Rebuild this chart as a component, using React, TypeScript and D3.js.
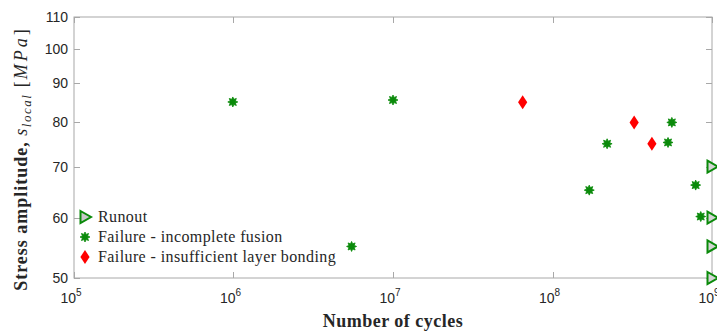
import * as d3 from "d3";
import { useEffect, useRef } from "react";

// cycles to failure / runout, stress amplitude in MPa
const runoutCycles = [1e9, 1e9, 1e9, 1e9];
const runoutStress = [70, 60, 55, 50];

const fusionCycles = [9.9e5, 1.0e7, 5.5e6, 1.7e8, 2.2e8, 5.3e8, 5.6e8, 7.9e8, 8.5e8];
const fusionStress = [85.1, 85.6, 55, 65.2, 75, 75.3, 80, 66.2, 60.2];

const bondingCycles = [6.5e7, 3.25e8, 4.2e8];
const bondingStress = [85, 80, 75];

const xTicks = [1e5, 1e6, 1e7, 1e8, 1e9];
const yTicks = [50, 60, 70, 80, 90, 100, 110];

const legendLabels = [
  "Runout",
  "Failure - incomplete fusion",
  "Failure - insufficient layer bonding",
];

const width = 717;
const height = 333;
const margin = { top: 17, right: 5, bottom: 55, left: 74 };

const GREEN = "#0a8a0a";
const RED = "#ff0000";
const AXIS = "#a8a8a8";
const TEXT = "#262626";
const SERIF = "'Liberation Serif', 'DejaVu Serif', serif";
const SANS = "'Liberation Sans', Arial, sans-serif";

// small filled 8-point star, like the matlab marker after export
function starPath(r: number, r2: number) {
  const pts: [number, number][] = [];
  for (let i = 0; i < 16; i++) {
    const a = (Math.PI * i) / 8 - Math.PI / 2;
    const rr = i % 2 === 0 ? r : r2;
    pts.push([rr * Math.cos(a), rr * Math.sin(a)]);
  }
  return d3.line()(pts) + "Z";
}
const triPath = "M-4.5,-6L6,0L-4.5,6Z";
const diaPath = "M0,-7L4.6,0L0,7L-4.6,0Z";

export default function App() {
  const ref = useRef<SVGSVGElement>(null);

  useEffect(() => {
    const svg = d3.select(ref.current);
    svg.selectAll("*").remove();

    const x = d3
      .scaleLog()
      .domain([1e5, 1e9])
      .range([margin.left, width - margin.right]);
    const y = d3
      .scaleLog()
      .domain([50, 110])
      .range([height - margin.bottom, margin.top]);

    const x0 = x.range()[0];
    const x1 = x.range()[1];
    const y0 = y.range()[0];
    const y1 = y.range()[1];

    const g = svg.append("g");

    // box
    g.append("rect")
      .attr("x", x0)
      .attr("y", y1)
      .attr("width", x1 - x0)
      .attr("height", y0 - y1)
      .attr("fill", "none")
      .attr("stroke", AXIS)
      .attr("stroke-width", 1);

    // x ticks (bottom and top, inward)
    xTicks.forEach((t) => {
      const px = Math.round(x(t)) + 0.5;
      g.append("line").attr("x1", px).attr("x2", px).attr("y1", y0).attr("y2", y0 - 6)
        .attr("stroke", AXIS);
      g.append("line").attr("x1", px).attr("x2", px).attr("y1", y1).attr("y2", y1 + 6)
        .attr("stroke", AXIS);
      const lab = g.append("text")
        .attr("x", x(t) - 3)
        .attr("y", y0 + 25)
        .attr("text-anchor", "middle")
        .attr("font-family", SANS)
        .attr("font-size", 14)
        .attr("fill", TEXT);
      lab.append("tspan").text("10");
      lab.append("tspan")
        .attr("dy", -7)
        .attr("font-size", 10)
        .text(String(Math.round(Math.log10(t))));
    });

    // y ticks (left and right, inward)
    yTicks.forEach((t) => {
      const py = Math.round(y(t)) + 0.5;
      g.append("line").attr("x1", x0).attr("x2", x0 + 6).attr("y1", py).attr("y2", py)
        .attr("stroke", AXIS);
      g.append("line").attr("x1", x1).attr("x2", x1 - 6).attr("y1", py).attr("y2", py)
        .attr("stroke", AXIS);
      g.append("text")
        .attr("x", x0 - 6)
        .attr("y", y(t))
        .attr("dy", "0.36em")
        .attr("text-anchor", "end")
        .attr("font-family", SANS)
        .attr("font-size", 14)
        .attr("fill", TEXT)
        .text(t);
    });

    const star = starPath(5, 2.8);

    // fusion failures
    g.selectAll(".fusion")
      .data(fusionCycles.map((c, i) => [c, fusionStress[i]]))
      .enter()
      .append("path")
      .attr("transform", (d) => `translate(${x(d[0])},${y(d[1])})`)
      .attr("d", star)
      .attr("fill", GREEN)
      .attr("stroke", GREEN)
      .attr("stroke-width", 0.8);

    // layer bonding failures
    g.selectAll(".bonding")
      .data(bondingCycles.map((c, i) => [c, bondingStress[i]]))
      .enter()
      .append("path")
      .attr("transform", (d) => `translate(${x(d[0])},${y(d[1])})`)
      .attr("d", diaPath)
      .attr("fill", RED);

    // runouts
    g.selectAll(".runout")
      .data(runoutCycles.map((c, i) => [c, runoutStress[i]]))
      .enter()
      .append("path")
      .attr("transform", (d) => `translate(${x(d[0])},${y(d[1])})`)
      .attr("d", triPath)
      .attr("fill", "#d4d4d4")
      .attr("stroke", GREEN)
      .attr("stroke-width", 2);

    // legend
    const leg = g.append("g").attr("transform", "translate(85,217)");
    const markers = [
      { d: triPath, fill: "#c8c8c8", stroke: GREEN, sw: 2 },
      { d: star, fill: GREEN, stroke: GREEN, sw: 0.8 },
      { d: diaPath, fill: RED, stroke: "none", sw: 0 },
    ];
    legendLabels.forEach((lab, i) => {
      const m = markers[i];
      leg.append("path")
        .attr("transform", `translate(0,${i * 20})`)
        .attr("d", m.d)
        .attr("fill", m.fill)
        .attr("stroke", m.stroke)
        .attr("stroke-width", m.sw);
      leg.append("text")
        .attr("x", 13)
        .attr("y", i * 20)
        .attr("dy", "0.33em")
        .attr("font-family", SERIF)
        .attr("font-size", 16)
        .attr("letter-spacing", 0.4)
        .attr("fill", TEXT)
        .text(lab);
    });

    // axis titles
    g.append("text")
      .attr("x", (x0 + x1) / 2)
      .attr("y", 327)
      .attr("text-anchor", "middle")
      .attr("font-family", SERIF)
      .attr("font-weight", "bold")
      .attr("font-size", 18)
      .attr("letter-spacing", 0.5)
      .attr("fill", TEXT)
      .text("Number of cycles");

    const yl = g.append("text")
      .attr("transform", "translate(27,160) rotate(-90)")
      .attr("text-anchor", "middle")
      .attr("font-family", SERIF)
      .attr("font-size", 18)
      .attr("fill", TEXT);
    yl.append("tspan").attr("font-weight", "bold").attr("letter-spacing", 1).text("Stress amplitude, ");
    yl.append("tspan").attr("font-style", "italic").attr("letter-spacing", 1.5).text("s");
    yl.append("tspan").attr("font-style", "italic").attr("font-size", 13).attr("dy", 4)
      .attr("letter-spacing", 1.5).text("local");
    yl.append("tspan").attr("dy", -4).attr("letter-spacing", 2).text(" [");
    yl.append("tspan").attr("font-style", "italic").attr("letter-spacing", 3).text("MPa");
    yl.append("tspan").text("]");
  }, []);

  return (
    <svg
      ref={ref}
      width={width}
      height={height}
      style={{ position: "absolute", left: 0, top: 0, background: "#fff" }}
    />
  );
}
